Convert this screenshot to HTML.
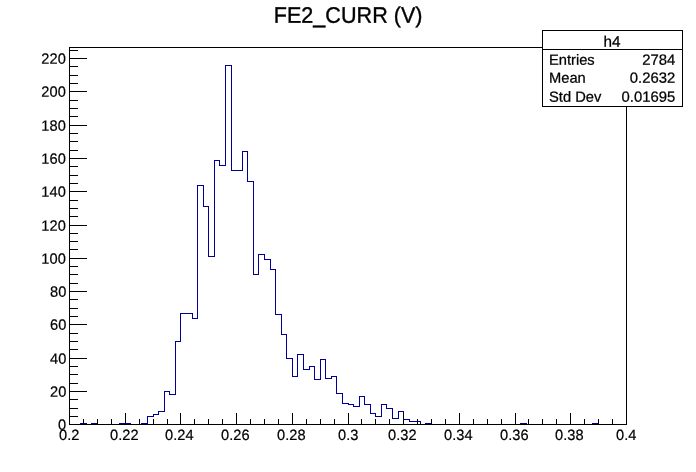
<!DOCTYPE html>
<html lang="en"><head><meta charset="utf-8"><title>FE2_CURR (V)</title>
<style>
html,body{margin:0;padding:0;background:#fff;}
body{width:696px;height:472px;overflow:hidden;}
svg{display:block;}
text{font-family:"Liberation Sans","DejaVu Sans",sans-serif;fill:#000;stroke:#000;stroke-linejoin:round;text-rendering:geometricPrecision;}
.ax{font-size:14.65px;stroke-width:0.2px;}
.st{font-size:14.7px;stroke-width:0.25px;}
.sv{font-size:14.85px;stroke-width:0.25px;}
.sh{font-size:15.3px;stroke-width:0.25px;}
.ti{font-size:21.6px;stroke-width:0.35px;}
</style></head><body>
<svg width="696" height="472" viewBox="0 0 696 472">
<rect x="0" y="0" width="696" height="472" fill="#ffffff"/>
<path d="M69.5,424.5 L80.5,424.5 L80.5,423.5 L86.5,423.5 L86.5,424.5 L91.5,424.5 L91.5,423.5 L97.5,423.5 L97.5,424.5 L119.5,424.5 L119.5,423.5 L130.5,423.5 L130.5,424.5 L141.5,424.5 L141.5,423.5 L147.5,423.5 L147.5,416.5 L153.5,416.5 L153.5,414.5 L158.5,414.5 L158.5,411.5 L164.5,411.5 L164.5,391.5 L169.5,391.5 L169.5,394.5 L175.5,394.5 L175.5,341.5 L180.5,341.5 L180.5,313.5 L192.5,313.5 L192.5,318.5 L197.5,318.5 L197.5,185.5 L203.5,185.5 L203.5,206.5 L208.5,206.5 L208.5,256.5 L214.5,256.5 L214.5,160.5 L219.5,160.5 L219.5,165.5 L225.5,165.5 L225.5,65.5 L231.5,65.5 L231.5,170.5 L242.5,170.5 L242.5,151.5 L247.5,151.5 L247.5,181.5 L253.5,181.5 L253.5,274.5 L258.5,274.5 L258.5,254.5 L264.5,254.5 L264.5,259.5 L270.5,259.5 L270.5,269.5 L275.5,269.5 L275.5,314.5 L281.5,314.5 L281.5,334.5 L286.5,334.5 L286.5,358.5 L292.5,358.5 L292.5,376.5 L297.5,376.5 L297.5,354.5 L303.5,354.5 L303.5,369.5 L309.5,369.5 L309.5,366.5 L314.5,366.5 L314.5,379.5 L320.5,379.5 L320.5,359.5 L325.5,359.5 L325.5,378.5 L331.5,378.5 L331.5,376.5 L336.5,376.5 L336.5,393.5 L342.5,393.5 L342.5,403.5 L348.5,403.5 L348.5,404.5 L353.5,404.5 L353.5,406.5 L359.5,406.5 L359.5,396.5 L364.5,396.5 L364.5,404.5 L370.5,404.5 L370.5,413.5 L375.5,413.5 L375.5,416.5 L381.5,416.5 L381.5,404.5 L386.5,404.5 L386.5,408.5 L392.5,408.5 L392.5,418.5 L398.5,418.5 L398.5,411.5 L403.5,411.5 L403.5,419.5 L409.5,419.5 L409.5,421.5 L420.5,421.5 L420.5,424.5 L425.5,424.5 L425.5,423.5 L431.5,423.5 L431.5,424.5 L520.5,424.5 L520.5,423.5 L526.5,423.5 L526.5,424.5 L592.5,424.5 L592.5,423.5 L598.5,423.5 L598.5,424.5 L626.5,424.5" fill="none" stroke="#000099" stroke-width="1" stroke-linejoin="miter" shape-rendering="crispEdges"/>
<g fill="#000" shape-rendering="crispEdges">
<rect x="69" y="47" width="558" height="1"/>
<rect x="69" y="424" width="558" height="1"/>
<rect x="69" y="47" width="1" height="378"/>
<rect x="626" y="47" width="1" height="378"/>
<rect x="83" y="419" width="1" height="6"/>
<rect x="97" y="419" width="1" height="6"/>
<rect x="111" y="419" width="1" height="6"/>
<rect x="125" y="413" width="1" height="12"/>
<rect x="139" y="419" width="1" height="6"/>
<rect x="153" y="419" width="1" height="6"/>
<rect x="167" y="419" width="1" height="6"/>
<rect x="180" y="413" width="1" height="12"/>
<rect x="194" y="419" width="1" height="6"/>
<rect x="208" y="419" width="1" height="6"/>
<rect x="222" y="419" width="1" height="6"/>
<rect x="236" y="413" width="1" height="12"/>
<rect x="250" y="419" width="1" height="6"/>
<rect x="264" y="419" width="1" height="6"/>
<rect x="278" y="419" width="1" height="6"/>
<rect x="292" y="413" width="1" height="12"/>
<rect x="306" y="419" width="1" height="6"/>
<rect x="320" y="419" width="1" height="6"/>
<rect x="334" y="419" width="1" height="6"/>
<rect x="348" y="413" width="1" height="12"/>
<rect x="361" y="419" width="1" height="6"/>
<rect x="375" y="419" width="1" height="6"/>
<rect x="389" y="419" width="1" height="6"/>
<rect x="403" y="413" width="1" height="12"/>
<rect x="417" y="419" width="1" height="6"/>
<rect x="431" y="419" width="1" height="6"/>
<rect x="445" y="419" width="1" height="6"/>
<rect x="459" y="413" width="1" height="12"/>
<rect x="473" y="419" width="1" height="6"/>
<rect x="487" y="419" width="1" height="6"/>
<rect x="501" y="419" width="1" height="6"/>
<rect x="515" y="413" width="1" height="12"/>
<rect x="528" y="419" width="1" height="6"/>
<rect x="542" y="419" width="1" height="6"/>
<rect x="556" y="419" width="1" height="6"/>
<rect x="570" y="413" width="1" height="12"/>
<rect x="584" y="419" width="1" height="6"/>
<rect x="598" y="419" width="1" height="6"/>
<rect x="612" y="419" width="1" height="6"/>
<rect x="69" y="424" width="18" height="1"/>
<rect x="69" y="416" width="9" height="1"/>
<rect x="69" y="408" width="9" height="1"/>
<rect x="69" y="399" width="9" height="1"/>
<rect x="69" y="391" width="18" height="1"/>
<rect x="69" y="383" width="9" height="1"/>
<rect x="69" y="374" width="9" height="1"/>
<rect x="69" y="366" width="9" height="1"/>
<rect x="69" y="358" width="18" height="1"/>
<rect x="69" y="349" width="9" height="1"/>
<rect x="69" y="341" width="9" height="1"/>
<rect x="69" y="333" width="9" height="1"/>
<rect x="69" y="324" width="18" height="1"/>
<rect x="69" y="316" width="9" height="1"/>
<rect x="69" y="308" width="9" height="1"/>
<rect x="69" y="299" width="9" height="1"/>
<rect x="69" y="291" width="18" height="1"/>
<rect x="69" y="283" width="9" height="1"/>
<rect x="69" y="274" width="9" height="1"/>
<rect x="69" y="266" width="9" height="1"/>
<rect x="69" y="258" width="18" height="1"/>
<rect x="69" y="249" width="9" height="1"/>
<rect x="69" y="241" width="9" height="1"/>
<rect x="69" y="233" width="9" height="1"/>
<rect x="69" y="225" width="18" height="1"/>
<rect x="69" y="216" width="9" height="1"/>
<rect x="69" y="208" width="9" height="1"/>
<rect x="69" y="200" width="9" height="1"/>
<rect x="69" y="191" width="18" height="1"/>
<rect x="69" y="183" width="9" height="1"/>
<rect x="69" y="175" width="9" height="1"/>
<rect x="69" y="166" width="9" height="1"/>
<rect x="69" y="158" width="18" height="1"/>
<rect x="69" y="150" width="9" height="1"/>
<rect x="69" y="141" width="9" height="1"/>
<rect x="69" y="133" width="9" height="1"/>
<rect x="69" y="125" width="18" height="1"/>
<rect x="69" y="116" width="9" height="1"/>
<rect x="69" y="108" width="9" height="1"/>
<rect x="69" y="100" width="9" height="1"/>
<rect x="69" y="91" width="18" height="1"/>
<rect x="69" y="83" width="9" height="1"/>
<rect x="69" y="75" width="9" height="1"/>
<rect x="69" y="66" width="9" height="1"/>
<rect x="69" y="58" width="18" height="1"/>
<rect x="69" y="50" width="9" height="1"/>
</g>
<text class="ax" transform="translate(59.10 439.90) skewY(0.03) scale(1 1.02)">0.2</text>
<text class="ax" transform="translate(110.10 439.90) skewY(0.03) scale(1 1.02)">0.22</text>
<text class="ax" transform="translate(165.10 439.90) skewY(0.03) scale(1 1.02)">0.24</text>
<text class="ax" transform="translate(221.10 439.90) skewY(0.03) scale(1 1.02)">0.26</text>
<text class="ax" transform="translate(277.10 439.90) skewY(0.03) scale(1 1.02)">0.28</text>
<text class="ax" transform="translate(338.10 439.90) skewY(0.03) scale(1 1.02)">0.3</text>
<text class="ax" transform="translate(388.10 439.90) skewY(0.03) scale(1 1.02)">0.32</text>
<text class="ax" transform="translate(444.10 439.90) skewY(0.03) scale(1 1.02)">0.34</text>
<text class="ax" transform="translate(500.10 439.90) skewY(0.03) scale(1 1.02)">0.36</text>
<text class="ax" transform="translate(555.10 439.90) skewY(0.03) scale(1 1.02)">0.38</text>
<text class="ax" transform="translate(616.10 439.90) skewY(0.03) scale(1 1.02)">0.4</text>
<text class="ax" text-anchor="end" transform="translate(66.20 429.85) skewY(0.03) scale(1 1.02)">0</text>
<text class="ax" text-anchor="end" transform="translate(66.30 396.85) skewY(0.03) scale(1 1.02)">20</text>
<text class="ax" text-anchor="end" transform="translate(66.30 363.85) skewY(0.03) scale(1 1.02)">40</text>
<text class="ax" text-anchor="end" transform="translate(66.30 329.85) skewY(0.03) scale(1 1.02)">60</text>
<text class="ax" text-anchor="end" transform="translate(66.30 296.85) skewY(0.03) scale(1 1.02)">80</text>
<text class="ax" text-anchor="end" transform="translate(65.80 263.85) skewY(0.03) scale(1 1.02)">100</text>
<text class="ax" text-anchor="end" transform="translate(65.80 230.85) skewY(0.03) scale(1 1.02)">120</text>
<text class="ax" text-anchor="end" transform="translate(65.80 196.85) skewY(0.03) scale(1 1.02)">140</text>
<text class="ax" text-anchor="end" transform="translate(65.80 163.85) skewY(0.03) scale(1 1.02)">160</text>
<text class="ax" text-anchor="end" transform="translate(65.80 130.85) skewY(0.03) scale(1 1.02)">180</text>
<text class="ax" text-anchor="end" transform="translate(65.80 96.85) skewY(0.03) scale(1 1.02)">200</text>
<text class="ax" text-anchor="end" transform="translate(65.80 63.85) skewY(0.03) scale(1 1.02)">220</text>
<text class="ti" text-anchor="middle" transform="translate(348.15 22.80) skewY(0.03) scale(1 1.04)">FE2_CURR (V)</text>
<g shape-rendering="crispEdges">
<rect x="542.5" y="30.5" width="140" height="76" fill="#fff" stroke="#000" stroke-width="1"/>
<rect x="542" y="49" width="141" height="1" fill="#000"/>
</g>
<text class="sh" text-anchor="middle" transform="translate(612.00 46.80) skewY(0.03) scale(1 1)">h4</text>
<text class="st" transform="translate(549.00 64.80) skewY(0.03) scale(1 1)">Entries</text>
<text class="sv" text-anchor="end" transform="translate(675.20 64.80) skewY(0.03) scale(1 1)">2784</text>
<text class="st" transform="translate(549.00 82.70) skewY(0.03) scale(1 1)">Mean</text>
<text class="sv" text-anchor="end" transform="translate(675.20 82.70) skewY(0.03) scale(1 1)">0.2632</text>
<text class="st" transform="translate(549.00 101.75) skewY(0.03) scale(1 1)">Std Dev</text>
<text class="sv" text-anchor="end" transform="translate(675.20 101.75) skewY(0.03) scale(1 1)">0.01695</text>
</svg>
</body></html>
